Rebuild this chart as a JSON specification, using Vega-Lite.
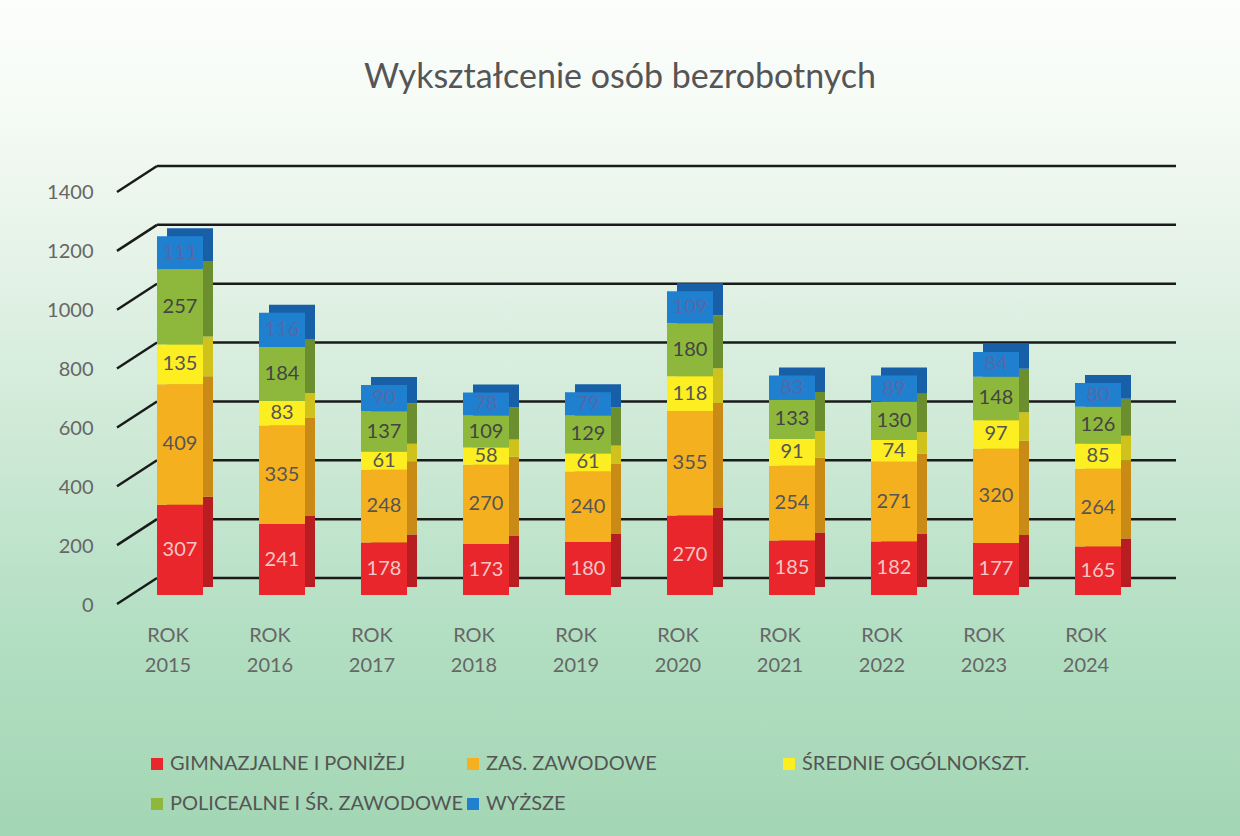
{
  "$schema": "https://vega.github.io/schema/vega-lite/v6.json",
  "width": 1240,
  "height": 836,
  "autosize": {"type": "none"},
  "padding": 0,
  "background": "#dcefe1",
  "title": {"text": "Wykształcenie osób bezrobotnych", "font": "Lato", "fontSize": 34, "fontWeight": "normal", "color": "#555555", "anchor": "middle", "frame": "group", "offset": -95},
  "config": {
    "view": {"stroke": null, "fill": {"gradient": "linear", "x1": 0, "y1": 0, "x2": 0, "y2": 1, "stops": [{"offset": 0, "color": "#fcfefc"}, {"offset": 0.12, "color": "#f6fbf6"}, {"offset": 0.3, "color": "#e6f3e8"}, {"offset": 0.55, "color": "#cbe8d4"}, {"offset": 0.75, "color": "#b3dfc3"}, {"offset": 1, "color": "#a3d6b4"}]}},
    "font": "Lato"
  },
  "datasets": {
    "d": [
      {"rok": "ROK 2015", "kat": "GIMNAZJALNE I PONIŻEJ", "o": 1, "v": 307},
      {"rok": "ROK 2015", "kat": "ZAS. ZAWODOWE", "o": 2, "v": 409},
      {"rok": "ROK 2015", "kat": "ŚREDNIE OGÓLNOKSZT.", "o": 3, "v": 135},
      {"rok": "ROK 2015", "kat": "POLICEALNE I ŚR. ZAWODOWE", "o": 4, "v": 257},
      {"rok": "ROK 2015", "kat": "WYŻSZE", "o": 5, "v": 111},
      {"rok": "ROK 2016", "kat": "GIMNAZJALNE I PONIŻEJ", "o": 1, "v": 241},
      {"rok": "ROK 2016", "kat": "ZAS. ZAWODOWE", "o": 2, "v": 335},
      {"rok": "ROK 2016", "kat": "ŚREDNIE OGÓLNOKSZT.", "o": 3, "v": 83},
      {"rok": "ROK 2016", "kat": "POLICEALNE I ŚR. ZAWODOWE", "o": 4, "v": 184},
      {"rok": "ROK 2016", "kat": "WYŻSZE", "o": 5, "v": 116},
      {"rok": "ROK 2017", "kat": "GIMNAZJALNE I PONIŻEJ", "o": 1, "v": 178},
      {"rok": "ROK 2017", "kat": "ZAS. ZAWODOWE", "o": 2, "v": 248},
      {"rok": "ROK 2017", "kat": "ŚREDNIE OGÓLNOKSZT.", "o": 3, "v": 61},
      {"rok": "ROK 2017", "kat": "POLICEALNE I ŚR. ZAWODOWE", "o": 4, "v": 137},
      {"rok": "ROK 2017", "kat": "WYŻSZE", "o": 5, "v": 90},
      {"rok": "ROK 2018", "kat": "GIMNAZJALNE I PONIŻEJ", "o": 1, "v": 173},
      {"rok": "ROK 2018", "kat": "ZAS. ZAWODOWE", "o": 2, "v": 270},
      {"rok": "ROK 2018", "kat": "ŚREDNIE OGÓLNOKSZT.", "o": 3, "v": 58},
      {"rok": "ROK 2018", "kat": "POLICEALNE I ŚR. ZAWODOWE", "o": 4, "v": 109},
      {"rok": "ROK 2018", "kat": "WYŻSZE", "o": 5, "v": 78},
      {"rok": "ROK 2019", "kat": "GIMNAZJALNE I PONIŻEJ", "o": 1, "v": 180},
      {"rok": "ROK 2019", "kat": "ZAS. ZAWODOWE", "o": 2, "v": 240},
      {"rok": "ROK 2019", "kat": "ŚREDNIE OGÓLNOKSZT.", "o": 3, "v": 61},
      {"rok": "ROK 2019", "kat": "POLICEALNE I ŚR. ZAWODOWE", "o": 4, "v": 129},
      {"rok": "ROK 2019", "kat": "WYŻSZE", "o": 5, "v": 79},
      {"rok": "ROK 2020", "kat": "GIMNAZJALNE I PONIŻEJ", "o": 1, "v": 270},
      {"rok": "ROK 2020", "kat": "ZAS. ZAWODOWE", "o": 2, "v": 355},
      {"rok": "ROK 2020", "kat": "ŚREDNIE OGÓLNOKSZT.", "o": 3, "v": 118},
      {"rok": "ROK 2020", "kat": "POLICEALNE I ŚR. ZAWODOWE", "o": 4, "v": 180},
      {"rok": "ROK 2020", "kat": "WYŻSZE", "o": 5, "v": 109},
      {"rok": "ROK 2021", "kat": "GIMNAZJALNE I PONIŻEJ", "o": 1, "v": 185},
      {"rok": "ROK 2021", "kat": "ZAS. ZAWODOWE", "o": 2, "v": 254},
      {"rok": "ROK 2021", "kat": "ŚREDNIE OGÓLNOKSZT.", "o": 3, "v": 91},
      {"rok": "ROK 2021", "kat": "POLICEALNE I ŚR. ZAWODOWE", "o": 4, "v": 133},
      {"rok": "ROK 2021", "kat": "WYŻSZE", "o": 5, "v": 83},
      {"rok": "ROK 2022", "kat": "GIMNAZJALNE I PONIŻEJ", "o": 1, "v": 182},
      {"rok": "ROK 2022", "kat": "ZAS. ZAWODOWE", "o": 2, "v": 271},
      {"rok": "ROK 2022", "kat": "ŚREDNIE OGÓLNOKSZT.", "o": 3, "v": 74},
      {"rok": "ROK 2022", "kat": "POLICEALNE I ŚR. ZAWODOWE", "o": 4, "v": 130},
      {"rok": "ROK 2022", "kat": "WYŻSZE", "o": 5, "v": 89},
      {"rok": "ROK 2023", "kat": "GIMNAZJALNE I PONIŻEJ", "o": 1, "v": 177},
      {"rok": "ROK 2023", "kat": "ZAS. ZAWODOWE", "o": 2, "v": 320},
      {"rok": "ROK 2023", "kat": "ŚREDNIE OGÓLNOKSZT.", "o": 3, "v": 97},
      {"rok": "ROK 2023", "kat": "POLICEALNE I ŚR. ZAWODOWE", "o": 4, "v": 148},
      {"rok": "ROK 2023", "kat": "WYŻSZE", "o": 5, "v": 84},
      {"rok": "ROK 2024", "kat": "GIMNAZJALNE I PONIŻEJ", "o": 1, "v": 165},
      {"rok": "ROK 2024", "kat": "ZAS. ZAWODOWE", "o": 2, "v": 264},
      {"rok": "ROK 2024", "kat": "ŚREDNIE OGÓLNOKSZT.", "o": 3, "v": 85},
      {"rok": "ROK 2024", "kat": "POLICEALNE I ŚR. ZAWODOWE", "o": 4, "v": 126},
      {"rok": "ROK 2024", "kat": "WYŻSZE", "o": 5, "v": 80}
    ],
    "grid": [{"g": 0}, {"g": 200}, {"g": 400}, {"g": 600}, {"g": 800}, {"g": 1000}, {"g": 1200}, {"g": 1400}]
  },
  "resolve": {"scale": {"color": "independent"}},
  "layer": [
    {
      "data": {"name": "grid"},
      "mark": {"type": "rule", "color": "#1a1a1a", "strokeWidth": 2.5, "xOffset": 12, "x2Offset": 67, "yOffset": -17},
      "encoding": {
        "x": {"datum": "ROK 2015", "type": "nominal", "bandPosition": 0,
          "scale": {"type": "band", "domain": ["ROK 2015", "ROK 2016", "ROK 2017", "ROK 2018", "ROK 2019", "ROK 2020", "ROK 2021", "ROK 2022", "ROK 2023", "ROK 2024"], "range": [145, 1109], "paddingInner": 0.549, "paddingOuter": 0, "align": 0.5},
          "axis": {"orient": "bottom", "offset": -241, "domain": false, "ticks": false, "title": null, "labelAngle": 0, "labelPadding": 30, "labelFontSize": 20, "labelColor": "#666666", "labelFont": "Lato", "labelLineHeight": 30, "labelExpr": "split(datum.label, ' ')"}},
        "x2": {"datum": "ROK 2024", "bandPosition": 1},
        "y": {"field": "g", "type": "quantitative",
          "scale": {"domain": [-818.9, 2021.8], "nice": false, "zero": false},
          "axis": {"values": [0, 200, 400, 600, 800, 1000, 1200, 1400], "format": "d", "orient": "left", "offset": -120, "domain": false, "ticks": false, "grid": false, "title": null, "labelPadding": 27, "labelOffset": 10, "labelFontSize": 20, "labelColor": "#666666", "labelFont": "Lato"}}
      }
    },
    {
      "data": {"name": "grid"},
      "mark": {"type": "rule", "color": "#1a1a1a", "strokeWidth": 2.5, "xOffset": -28, "x2Offset": 12, "yOffset": 9, "y2Offset": -17},
      "encoding": {
        "x": {"datum": "ROK 2015", "type": "nominal", "bandPosition": 0},
        "x2": {"datum": "ROK 2015", "bandPosition": 0},
        "y": {"field": "g", "type": "quantitative"},
        "y2": {"field": "g"}
      }
    },
    {
      "data": {"name": "d"},
      "transform": [
        {"stack": "v", "groupby": ["rok"], "sort": [{"field": "o", "order": "ascending"}], "as": ["y0", "y1"]}
      ],
      "mark": {"type": "bar", "xOffset": 22, "x2Offset": 22, "yOffset": -8, "y2Offset": -8},
      "encoding": {
        "x": {"field": "rok", "type": "nominal", "sort": null},
        "y": {"field": "y1", "type": "quantitative"},
        "y2": {"field": "y0"},
        "color": {"field": "kat", "type": "nominal", "legend": null,
          "scale": {"domain": ["GIMNAZJALNE I PONIŻEJ", "ZAS. ZAWODOWE", "ŚREDNIE OGÓLNOKSZT.", "POLICEALNE I ŚR. ZAWODOWE", "WYŻSZE"], "range": ["#b81d22", "#c98b16", "#cfc21c", "#6b8f2e", "#1760a8"]}}
      }
    },
    {
      "data": {"name": "d"},
      "transform": [
        {"stack": "v", "groupby": ["rok"], "sort": [{"field": "o", "order": "ascending"}], "as": ["y0", "y1"]}
      ],
      "mark": {"type": "bar", "xOffset": 12, "x2Offset": 12},
      "encoding": {
        "x": {"field": "rok", "type": "nominal", "sort": null},
        "y": {"field": "y1", "type": "quantitative"},
        "y2": {"field": "y0"},
        "color": {"field": "kat", "type": "nominal",
          "scale": {"domain": ["GIMNAZJALNE I PONIŻEJ", "ZAS. ZAWODOWE", "ŚREDNIE OGÓLNOKSZT.", "POLICEALNE I ŚR. ZAWODOWE", "WYŻSZE"], "range": ["#e8262b", "#f5b020", "#fcee21", "#8db83c", "#2080d0"]},
          "legend": {"orient": "none", "legendX": 147, "legendY": 754, "direction": "horizontal", "columns": 3, "gridAlign": "all", "columnPadding": 0, "rowPadding": 20, "title": null, "symbolType": "square", "symbolSize": 144, "symbolStrokeWidth": 0, "symbolOpacity": 1, "labelFontSize": 20, "labelColor": "#555555", "labelFont": "Lato", "labelOffset": 3, "labelLimit": 400}}
      }
    },
    {
      "data": {"name": "d"},
      "transform": [
        {"stack": "v", "groupby": ["rok"], "sort": [{"field": "o", "order": "ascending"}], "as": ["y0", "y1"]},
        {"calculate": "(datum.y0 + datum.y1) / 2", "as": "mid"}
      ],
      "mark": {"type": "text", "xOffset": 12, "fontSize": 20, "font": "Lato", "baseline": "middle", "align": "center"},
      "encoding": {
        "x": {"field": "rok", "type": "nominal", "sort": null},
        "y": {"field": "mid", "type": "quantitative"},
        "text": {"field": "v", "type": "quantitative"},
        "color": {"field": "kat", "type": "nominal", "legend": null,
          "scale": {"domain": ["GIMNAZJALNE I PONIŻEJ", "ZAS. ZAWODOWE", "ŚREDNIE OGÓLNOKSZT.", "POLICEALNE I ŚR. ZAWODOWE", "WYŻSZE"], "range": ["#f4c6c6", "#555555", "#555555", "#444444", "#5468a8"]}}
      }
    }
  ]
}
